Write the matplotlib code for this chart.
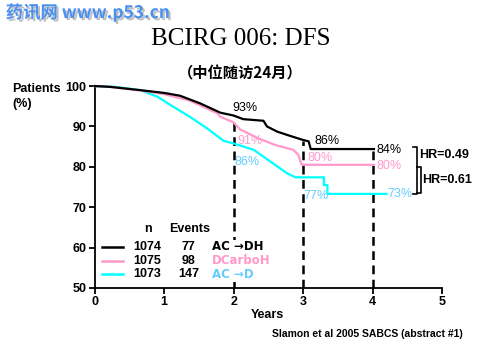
import matplotlib
matplotlib.use("Agg")
import matplotlib.pyplot as plt
import matplotlib.patheffects as pe
from matplotlib.patches import Rectangle

plt.rcParams['font.family'] = ['Liberation Sans', 'Noto Sans CJK SC', 'DejaVu Sans']

# survival curves (years, % disease free)
black_t = [0, 0.22, 0.65, 1.0, 1.23, 1.52, 1.81, 2.0, 2.14, 2.43, 2.48, 2.63, 2.77, 2.99, 3.08, 3.11, 4.02]
black_s = [100, 99.8, 99.0, 98.3, 97.6, 95.7, 93.4, 92.7, 91.8, 91.4, 90.0, 88.7, 87.9, 86.7, 86.3, 84.4, 84.4]
pink_t = [0, 0.22, 0.65, 1.0, 1.37, 1.76, 1.81, 2.0, 2.09, 2.35, 2.6, 2.86, 2.93, 2.98, 4.02]
pink_s = [100, 99.8, 98.9, 98.0, 96.4, 93.3, 92.4, 91.0, 89.3, 87.1, 85.4, 84.2, 83.0, 80.5, 80.5]
cyan_t = [0, 0.3, 0.65, 0.9, 1.13, 1.37, 1.62, 1.86, 2.0, 2.29, 2.53, 2.77, 2.89, 3.3, 3.3, 3.35, 3.35, 4.2]
cyan_s = [100, 99.8, 99.0, 97.4, 94.9, 92.4, 89.5, 86.4, 85.8, 84.2, 81.3, 78.4, 77.4, 77.4, 75.5, 75.5, 73.3, 73.3]

# dashed markers at 2, 3, 4 years
mark_years = [2, 3, 4]
mark_tops = [91.0, 86.3, 84.4]

# percent annotations
pct_x = [1.99, 2.06, 2.02, 3.17, 3.07, 3.0, 4.06, 4.06, 4.21]
pct_y = [94.6, 86.3, 81.3, 86.5, 82.2, 72.8, 84.2, 80.3, 73.3]
pct_txt = ["93%", "91%", "86%", "86%", "80%", "77%", "84%", "80%", "73%"]
pct_arm = [0, 1, 2, 0, 1, 2, 0, 1, 2]

# legend table
arm_n = [1074, 1075, 1073]
arm_events = [77, 98, 147]
arm_names = ["AC \u2192DH", "DCarboH", "AC \u2192D"]
leg_y = [60.2, 56.8, 53.4]

# hazard ratio brackets
hr_labels = ["HR=0.49", "HR=0.61"]
hr_x = [4.636, 4.69]
hr_lo = [73.2, 73.4]
hr_hi = [84.8, 80.0]
hr_txt_y = [82.9, 76.7]

line_cols = ["#000000", "#FF99CC", "#00FFFF"]
text_cols = ["#000000", "#FF99CC", "#66CCFF"]

fig = plt.figure(figsize=(4.8, 3.6), dpi=100)
ax = fig.add_axes([0.197, 0.2, 0.724, 0.561])

ax.plot(cyan_t, cyan_s, color=line_cols[2], lw=1.6, clip_on=False, zorder=3)
ax.plot(pink_t, pink_s, color=line_cols[1], lw=1.6, clip_on=False, zorder=4)
ax.plot(black_t, black_s, color=line_cols[0], lw=1.6, clip_on=False, zorder=5)

for x, top in zip(mark_years, mark_tops):
    ax.plot([x, x], [50, top], color="black", lw=1.8, ls=(0, (3.5, 2.2)), zorder=2)

for x, y, s, a in zip(pct_x, pct_y, pct_txt, pct_arm):
    ax.text(x, y, s, color=text_cols[a], fontsize=9, ha="left", va="center", zorder=6)

# legend block (white box hides the 2-year dashed line behind it)
ax.add_patch(Rectangle((0.05, 51.6), 2.4, 10.4, facecolor="white", edgecolor="none", zorder=2.5))
ax.text(0.77, 64.5, "n", fontsize=9, fontweight="bold", ha="center", va="center")
ax.text(1.37, 64.5, "Events", fontsize=9, fontweight="bold", ha="center", va="center")
for i in range(3):
    ax.plot([0.10, 0.41], [leg_y[i], leg_y[i]], color=line_cols[i], lw=1.8, zorder=3)
    ax.text(0.76, leg_y[i], str(arm_n[i]), fontsize=9, fontweight="bold", ha="center", va="center")
    ax.text(1.35, leg_y[i], str(arm_events[i]), fontsize=9, fontweight="bold", ha="center", va="center")
    ax.text(1.69, leg_y[i], arm_names[i], family="DejaVu Sans", fontsize=8.5, fontweight="bold",
            color=text_cols[i], ha="left", va="center", zorder=4)

for i in range(2):
    x = hr_x[i]
    ax.plot([x - 0.05, x, x, x - 0.05], [hr_hi[i], hr_hi[i], hr_lo[i], hr_lo[i]],
            color="black", lw=1.2, clip_on=False)
    ax.text(x + 0.03, hr_txt_y[i], hr_labels[i], fontsize=9, fontweight="bold",
            ha="left", va="center", clip_on=False)

ax.set_xlim(0, 5)
ax.set_ylim(50, 100)
ax.set_xticks([0, 1, 2, 3, 4, 5])
ax.set_yticks([50, 60, 70, 80, 90, 100])
ax.spines["top"].set_visible(False)
ax.spines["right"].set_visible(False)
for sp in ["left", "bottom"]:
    ax.spines[sp].set_linewidth(1.3)
ax.tick_params(direction="out", length=4, width=1.3, labelsize=9, pad=2)
for lab in ax.get_xticklabels() + ax.get_yticklabels():
    lab.set_fontweight("bold")

# titles and captions
fig.text(0.501, 0.892, "BCIRG 006: DFS", family="Liberation Serif", fontsize=18,
         ha="center", va="center")
fig.text(0.5, 0.795, "（中位随访24月）", family=["Noto Sans CJK SC", "DejaVu Sans"],
         fontsize=11, fontweight="bold", ha="center", va="center")
fig.text(0.012, 0.965, "药讯网 www.p53.cn", family=["Noto Sans CJK SC", "DejaVu Sans"],
         fontsize=12.5, fontweight="bold", color="#4A90EE", ha="left", va="center",
         path_effects=[pe.withSimplePatchShadow(offset=(1.5, -1.5), shadow_rgbFace="#999999", alpha=0.6)])
fig.text(0.025, 0.752, "Patients", fontsize=9, fontweight="bold", ha="left", va="center")
fig.text(0.025, 0.711, "(%)", fontsize=9, fontweight="bold", ha="left", va="center")
fig.text(0.523, 0.125, "Years", fontsize=9, fontweight="bold", ha="left", va="center")
fig.text(0.965, 0.072, "Slamon et al 2005 SABCS (abstract #1)", fontsize=7.5,
         fontweight="bold", ha="right", va="center")

fig.savefig("out.png", dpi=100)
